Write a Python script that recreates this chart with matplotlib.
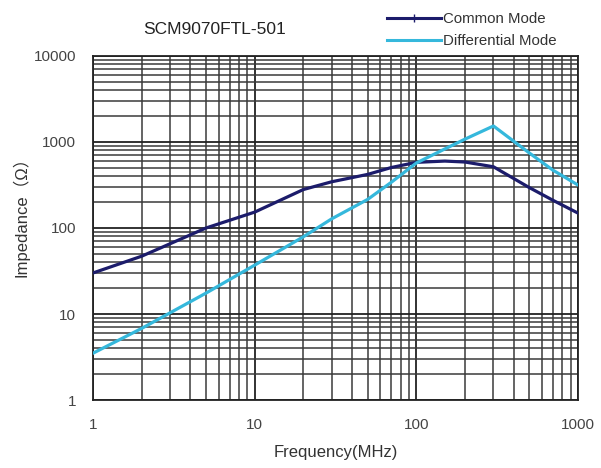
import matplotlib
matplotlib.use('Agg')
import matplotlib.pyplot as plt
from matplotlib.lines import Line2D

plt.rcParams['font.family'] = ['Liberation Sans', 'Noto Sans CJK SC', 'DejaVu Sans']

# frequencies (MHz) and impedance
freq = [1, 2, 5, 10, 20, 30, 50, 70, 100, 150, 200, 300, 500, 700, 1000]
common_mode = [30, 47, 100, 153, 280, 345, 420, 505, 580, 600, 585, 515, 295, 210, 149]
diff_mode = [3.5, 6.8, 17.5, 37, 79, 128, 215, 340, 570, 830, 1080, 1535, 745, 470, 316]

navy = '#1c1c6b'
cyan = '#35b8dc'

fig = plt.figure(figsize=(6.01, 4.68), dpi=100)
ax = fig.add_axes([93/601, 68/468, 485/601, 344/468])

ax.plot(freq, common_mode, color=navy, lw=2.3, zorder=3)
ax.plot(freq, diff_mode, color=cyan, lw=2.3, zorder=3)

ax.set_xscale('log')
ax.set_yscale('log')
ax.set_xlim(1, 1000)
ax.set_ylim(1, 10000)

ax.set_xticks([1, 10, 100, 1000])
ax.set_xticklabels(['1', '10', '100', '1000'])
ax.set_yticks([1, 10, 100, 1000, 10000])
ax.set_yticklabels(['1', '10', '100', '1000', '10000'])
ax.tick_params(which='both', length=0, labelsize=11, colors='#444444')
ax.tick_params(axis='x', pad=13)
ax.tick_params(axis='y', pad=12)

ax.grid(which='major', color='#222222', lw=1.3)
ax.grid(which='minor', color='#3a3a3a', lw=1.1)
for s in ax.spines.values():
    s.set_color('#222222')
    s.set_linewidth(1.3)

ax.set_xlabel('Frequency(MHz)', fontsize=12, color='#333333')
ax.set_ylabel('Impedance（Ω）', fontsize=12, color='#333333')
ax.xaxis.set_label_coords(0.5, -0.13)
ax.yaxis.set_label_coords(-0.13, 0.545)

fig.text(215/601, 1 - 30/468, 'SCM9070FTL-501', ha='center', va='center',
         fontsize=12.5, color='#222222')

handles = [Line2D([], [], color=navy, lw=2.2, marker='|', markersize=6),
           Line2D([], [], color=cyan, lw=2.2)]
fig.legend(handles, ['Common Mode', 'Differential Mode'],
           loc='upper left', bbox_to_anchor=(381/601, 1 - 6/468),
           frameon=False, fontsize=10.8, handlelength=3.6, handletextpad=0.15,
           labelspacing=0.55, borderaxespad=0, labelcolor='#333333')

fig.savefig('out.png', dpi=100)
